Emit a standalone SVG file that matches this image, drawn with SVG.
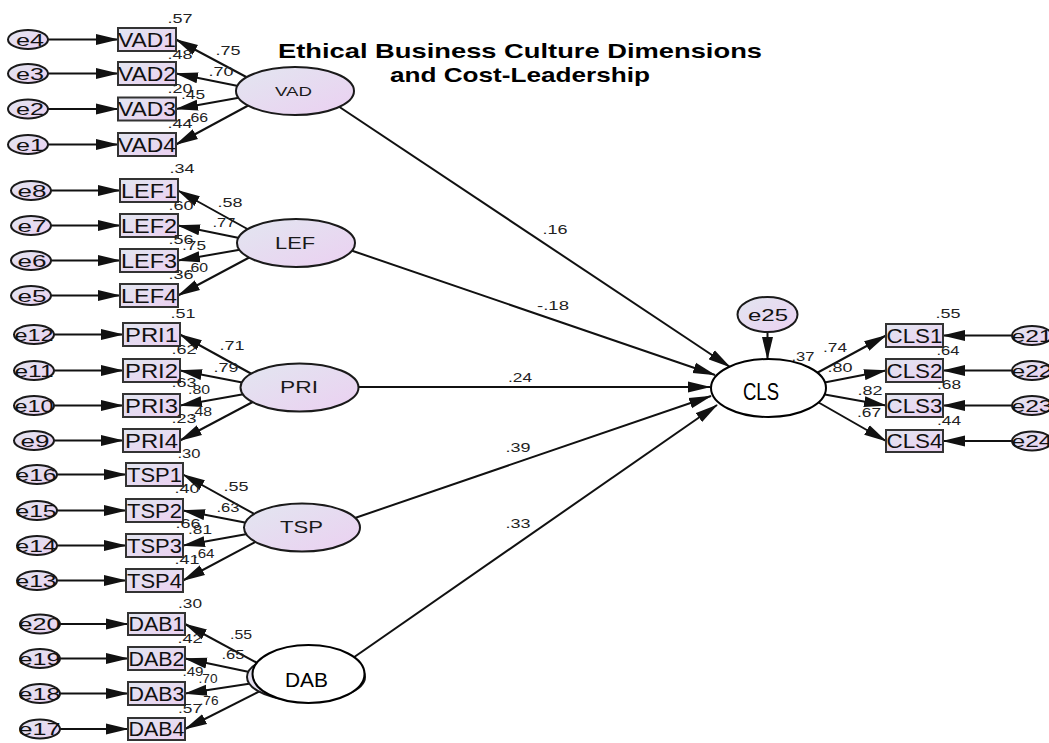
<svg xmlns="http://www.w3.org/2000/svg" width="1049" height="743" viewBox="0 0 1049 743">
<defs>
<linearGradient id="g" x1="0" y1="0" x2="1" y2="1">
<stop offset="0" stop-color="#e2e6f0"/>
<stop offset="1" stop-color="#ebd0f1"/>
</linearGradient>
<marker id="a" markerUnits="userSpaceOnUse" markerWidth="23" markerHeight="12" refX="22" refY="6" orient="auto">
<path d="M0,0.5 L23,6 L0,11.5 z" fill="#111"/>
</marker>
<style>
.en{fill:url(#g);stroke:#1a1a1a;stroke-width:2}
.box{fill:url(#g);stroke:#333;stroke-width:2}
.lat{fill:url(#g);stroke:#1a1a1a;stroke-width:2}
.wl{fill:#fff;stroke:#000;stroke-width:2}
.c line{stroke:#111;stroke-width:2;marker-end:url(#a)}
text{font-family:"Liberation Sans",Arial,sans-serif;fill:#1a1a1a;text-anchor:middle}
.n{font-size:13px;fill:#222}
.bl{font-size:20px;fill:#111}
.el{font-size:17px;fill:#111}
.ll{font-size:17px}
.t{font-size:21px;font-weight:bold;fill:#000}
.cal{font-family:"Liberation Sans Narrow","Liberation Sans",sans-serif;fill:#000}
</style>
</defs>
<rect width="1049" height="743" fill="#fff"/>

<g id="title">
<text class="t" x="520" y="58" textLength="484" lengthAdjust="spacingAndGlyphs">Ethical Business Culture Dimensions</text>
<text class="t" x="520" y="82" textLength="260" lengthAdjust="spacingAndGlyphs">and Cost-Leadership</text>
</g>

<g id="connectors" class="c">
<line x1="48" y1="39.5" x2="118" y2="39.5"/>
<line x1="48" y1="73.5" x2="118" y2="73.5"/>
<line x1="48" y1="109" x2="118" y2="109"/>
<line x1="48" y1="144.5" x2="118" y2="144.5"/>
<line x1="51" y1="190.5" x2="120" y2="190.5"/>
<line x1="51" y1="225.5" x2="120" y2="225.5"/>
<line x1="51" y1="260.5" x2="120" y2="260.5"/>
<line x1="51" y1="295.5" x2="120" y2="295.5"/>
<line x1="54" y1="334.5" x2="123" y2="334.5"/>
<line x1="54" y1="370.5" x2="123" y2="370.5"/>
<line x1="54" y1="405.5" x2="123" y2="405.5"/>
<line x1="54" y1="440.5" x2="123" y2="440.5"/>
<line x1="57" y1="474.5" x2="126" y2="474.5"/>
<line x1="57" y1="510.5" x2="126" y2="510.5"/>
<line x1="57" y1="545.5" x2="126" y2="545.5"/>
<line x1="57" y1="580.5" x2="126" y2="580.5"/>
<line x1="60" y1="624" x2="128" y2="624"/>
<line x1="60" y1="658.5" x2="128" y2="658.5"/>
<line x1="60" y1="693.5" x2="128" y2="693.5"/>
<line x1="60" y1="729" x2="128" y2="729"/>
<line x1="250" y1="79" x2="176" y2="39.5"/>
<line x1="243" y1="87" x2="176" y2="73.5"/>
<line x1="243" y1="97" x2="176" y2="109"/>
<line x1="251" y1="104" x2="176" y2="144.5"/>
<line x1="251" y1="231" x2="178" y2="190.5"/>
<line x1="244" y1="239" x2="178" y2="225.5"/>
<line x1="244" y1="249" x2="178" y2="260.5"/>
<line x1="252" y1="256" x2="178" y2="295.5"/>
<line x1="254.5" y1="375.5" x2="180" y2="334.5"/>
<line x1="247.5" y1="383.5" x2="180" y2="370.5"/>
<line x1="247.5" y1="393.5" x2="180" y2="405.5"/>
<line x1="255.5" y1="400.5" x2="180" y2="440.5"/>
<line x1="257" y1="515.5" x2="183" y2="474.5"/>
<line x1="250" y1="523.5" x2="183" y2="510.5"/>
<line x1="250" y1="533.5" x2="183" y2="545.5"/>
<line x1="258" y1="540.5" x2="183" y2="580.5"/>
<line x1="261" y1="665" x2="185" y2="624"/>
<line x1="254" y1="673" x2="185" y2="658.5"/>
<line x1="254" y1="683" x2="185" y2="693.5"/>
<line x1="262" y1="690" x2="185" y2="729"/>
<line x1="335" y1="104" x2="730" y2="367"/>
<line x1="350" y1="250" x2="715" y2="375"/>
<line x1="352" y1="387" x2="710" y2="387"/>
<line x1="352" y1="519" x2="711" y2="396"/>
<line x1="350" y1="660" x2="717" y2="405"/>
<line x1="767.5" y1="332" x2="767.5" y2="359"/>
<line x1="815" y1="374" x2="886" y2="335.5"/>
<line x1="822" y1="383" x2="886" y2="370.5"/>
<line x1="822" y1="394" x2="886" y2="405.5"/>
<line x1="816" y1="401" x2="886" y2="441"/>
<line x1="1012" y1="335.5" x2="943" y2="335.5"/>
<line x1="1012" y1="370.5" x2="943" y2="370.5"/>
<line x1="1012" y1="405.5" x2="943" y2="405.5"/>
<line x1="1012" y1="441" x2="943" y2="441"/>
</g>

<g id="VAD">
<ellipse class="lat" cx="295" cy="91" rx="59" ry="24"/>
<text x="293.5" y="96" style="font-size:13px" textLength="37" lengthAdjust="spacingAndGlyphs">VAD</text>
</g>
<g id="LEF">
<ellipse class="lat" cx="296" cy="243" rx="59" ry="24"/>
<text class="ll" x="295" y="249" textLength="40" lengthAdjust="spacingAndGlyphs">LEF</text>
</g>
<g id="PRI">
<ellipse class="lat" cx="299.5" cy="387.5" rx="59" ry="24"/>
<text class="ll" x="299" y="393" textLength="38" lengthAdjust="spacingAndGlyphs">PRI</text>
</g>
<g id="TSP">
<ellipse class="lat" cx="302" cy="527.5" rx="58" ry="24"/>
<text class="ll" x="301.5" y="533" textLength="43" lengthAdjust="spacingAndGlyphs">TSP</text>
</g>
<g id="DAB">
<ellipse class="lat" cx="306" cy="677" rx="59" ry="24"/>
<ellipse class="wl" cx="308.5" cy="674" rx="56" ry="29"/>
<text class="cal" x="306.5" y="687" style="font-size:21px" textLength="43" lengthAdjust="spacingAndGlyphs">DAB</text>
</g>
<g id="CLS">
<ellipse class="wl" cx="768.5" cy="388" rx="57.5" ry="29"/>
<text class="cal" x="761" y="400" style="font-size:24px" textLength="36" lengthAdjust="spacingAndGlyphs">CLS</text>
</g>
<g id="e25">
<ellipse class="en" cx="767.5" cy="314.5" rx="30" ry="17.5"/>
<text class="el" x="768" y="320.5" textLength="40" lengthAdjust="spacingAndGlyphs">e25</text>
</g>

<g id="indicators">
<g id="VAD1"><rect class="box" x="118" y="28" width="58" height="23"/><text class="bl" x="147" y="46.5" textLength="58" lengthAdjust="spacingAndGlyphs">VAD1</text></g>
<g id="VAD2"><rect class="box" x="118" y="62" width="58" height="23"/><text class="bl" x="147" y="80.5" textLength="58" lengthAdjust="spacingAndGlyphs">VAD2</text></g>
<g id="VAD3"><rect class="box" x="118" y="97.5" width="58" height="23"/><text class="bl" x="147" y="116" textLength="58" lengthAdjust="spacingAndGlyphs">VAD3</text></g>
<g id="VAD4"><rect class="box" x="118" y="133" width="58" height="23"/><text class="bl" x="147" y="151.5" textLength="58" lengthAdjust="spacingAndGlyphs">VAD4</text></g>
<g id="LEF1"><rect class="box" x="120" y="179" width="58" height="23"/><text class="bl" x="149" y="197.5" textLength="56" lengthAdjust="spacingAndGlyphs">LEF1</text></g>
<g id="LEF2"><rect class="box" x="120" y="214" width="58" height="23"/><text class="bl" x="149" y="232.5" textLength="56" lengthAdjust="spacingAndGlyphs">LEF2</text></g>
<g id="LEF3"><rect class="box" x="120" y="249" width="58" height="23"/><text class="bl" x="149" y="267.5" textLength="56" lengthAdjust="spacingAndGlyphs">LEF3</text></g>
<g id="LEF4"><rect class="box" x="120" y="284" width="58" height="23"/><text class="bl" x="149" y="302.5" textLength="56" lengthAdjust="spacingAndGlyphs">LEF4</text></g>
<g id="PRI1"><rect class="box" x="123" y="323" width="57" height="23"/><text class="bl" x="151.5" y="341.5" textLength="53" lengthAdjust="spacingAndGlyphs">PRI1</text></g>
<g id="PRI2"><rect class="box" x="123" y="359" width="57" height="23"/><text class="bl" x="151.5" y="377.5" textLength="53" lengthAdjust="spacingAndGlyphs">PRI2</text></g>
<g id="PRI3"><rect class="box" x="123" y="394" width="57" height="23"/><text class="bl" x="151.5" y="412.5" textLength="53" lengthAdjust="spacingAndGlyphs">PRI3</text></g>
<g id="PRI4"><rect class="box" x="123" y="429" width="57" height="23"/><text class="bl" x="151.5" y="447.5" textLength="53" lengthAdjust="spacingAndGlyphs">PRI4</text></g>
<g id="TSP1"><rect class="box" x="126" y="463" width="57" height="23"/><text class="bl" x="154.5" y="481.5" textLength="55" lengthAdjust="spacingAndGlyphs">TSP1</text></g>
<g id="TSP2"><rect class="box" x="126" y="499" width="57" height="23"/><text class="bl" x="154.5" y="517.5" textLength="55" lengthAdjust="spacingAndGlyphs">TSP2</text></g>
<g id="TSP3"><rect class="box" x="126" y="534" width="57" height="23"/><text class="bl" x="154.5" y="552.5" textLength="55" lengthAdjust="spacingAndGlyphs">TSP3</text></g>
<g id="TSP4"><rect class="box" x="126" y="569" width="57" height="23"/><text class="bl" x="154.5" y="587.5" textLength="55" lengthAdjust="spacingAndGlyphs">TSP4</text></g>
<g id="DAB1"><rect class="box" x="128" y="613" width="57" height="22"/><text class="bl" x="156.5" y="631" textLength="56" lengthAdjust="spacingAndGlyphs">DAB1</text></g>
<g id="DAB2"><rect class="box" x="128" y="647" width="57" height="23"/><text class="bl" x="156.5" y="665.5" textLength="56" lengthAdjust="spacingAndGlyphs">DAB2</text></g>
<g id="DAB3"><rect class="box" x="128" y="682" width="57" height="23"/><text class="bl" x="156.5" y="700.5" textLength="56" lengthAdjust="spacingAndGlyphs">DAB3</text></g>
<g id="DAB4"><rect class="box" x="128" y="718" width="57" height="22"/><text class="bl" x="156.5" y="736" textLength="56" lengthAdjust="spacingAndGlyphs">DAB4</text></g>
<g id="CLS1"><rect class="box" x="886" y="324" width="57" height="23"/><text class="bl" x="914.5" y="342.5" textLength="56" lengthAdjust="spacingAndGlyphs">CLS1</text></g>
<g id="CLS2"><rect class="box" x="886" y="359" width="57" height="23"/><text class="bl" x="914.5" y="377.5" textLength="56" lengthAdjust="spacingAndGlyphs">CLS2</text></g>
<g id="CLS3"><rect class="box" x="886" y="394" width="57" height="23"/><text class="bl" x="914.5" y="412.5" textLength="56" lengthAdjust="spacingAndGlyphs">CLS3</text></g>
<g id="CLS4"><rect class="box" x="886" y="430" width="57" height="22"/><text class="bl" x="914.5" y="448" textLength="56" lengthAdjust="spacingAndGlyphs">CLS4</text></g>
</g>

<g id="errors">
<g id="e4"><ellipse class="en" cx="28" cy="39.5" rx="20" ry="9.5"/><text class="el" x="30" y="45.5" textLength="28" lengthAdjust="spacingAndGlyphs">e4</text></g>
<g id="e3"><ellipse class="en" cx="28" cy="73.5" rx="20" ry="9.5"/><text class="el" x="30" y="79.5" textLength="28" lengthAdjust="spacingAndGlyphs">e3</text></g>
<g id="e2"><ellipse class="en" cx="28" cy="109" rx="20" ry="9.5"/><text class="el" x="30" y="115" textLength="28" lengthAdjust="spacingAndGlyphs">e2</text></g>
<g id="e1"><ellipse class="en" cx="28" cy="144.5" rx="20" ry="9.5"/><text class="el" x="30" y="150.5" textLength="28" lengthAdjust="spacingAndGlyphs">e1</text></g>
<g id="e8"><ellipse class="en" cx="31" cy="190.5" rx="20" ry="9.5"/><text class="el" x="32" y="196.5" textLength="29" lengthAdjust="spacingAndGlyphs">e8</text></g>
<g id="e7"><ellipse class="en" cx="31" cy="225.5" rx="20" ry="9.5"/><text class="el" x="32" y="231.5" textLength="29" lengthAdjust="spacingAndGlyphs">e7</text></g>
<g id="e6"><ellipse class="en" cx="31" cy="260.5" rx="20" ry="9.5"/><text class="el" x="32" y="266.5" textLength="29" lengthAdjust="spacingAndGlyphs">e6</text></g>
<g id="e5"><ellipse class="en" cx="31" cy="295.5" rx="20" ry="9.5"/><text class="el" x="32" y="301.5" textLength="29" lengthAdjust="spacingAndGlyphs">e5</text></g>
<g id="e12"><ellipse class="en" cx="34" cy="334.5" rx="20" ry="9.5"/><text class="el" x="34" y="340.5" textLength="39" lengthAdjust="spacingAndGlyphs">e12</text></g>
<g id="e11"><ellipse class="en" cx="34" cy="370.5" rx="20" ry="9.5"/><text class="el" x="34" y="376.5" textLength="39" lengthAdjust="spacingAndGlyphs">e11</text></g>
<g id="e10"><ellipse class="en" cx="34" cy="405.5" rx="20" ry="9.5"/><text class="el" x="34" y="411.5" textLength="39" lengthAdjust="spacingAndGlyphs">e10</text></g>
<g id="e9"><ellipse class="en" cx="34" cy="440.5" rx="20" ry="9.5"/><text class="el" x="35" y="446.5" textLength="29" lengthAdjust="spacingAndGlyphs">e9</text></g>
<g id="e16"><ellipse class="en" cx="37" cy="474.5" rx="20" ry="9.5"/><text class="el" x="36" y="480.5" textLength="41" lengthAdjust="spacingAndGlyphs">e16</text></g>
<g id="e15"><ellipse class="en" cx="37" cy="510.5" rx="20" ry="9.5"/><text class="el" x="36" y="516.5" textLength="41" lengthAdjust="spacingAndGlyphs">e15</text></g>
<g id="e14"><ellipse class="en" cx="37" cy="545.5" rx="20" ry="9.5"/><text class="el" x="36" y="551.5" textLength="41" lengthAdjust="spacingAndGlyphs">e14</text></g>
<g id="e13"><ellipse class="en" cx="37" cy="580.5" rx="20" ry="9.5"/><text class="el" x="36" y="586.5" textLength="41" lengthAdjust="spacingAndGlyphs">e13</text></g>
<g id="e20"><ellipse class="en" cx="40" cy="624" rx="20" ry="9.5"/><text class="el" x="39.5" y="630" textLength="42" lengthAdjust="spacingAndGlyphs">e20</text></g>
<g id="e19"><ellipse class="en" cx="40" cy="658.5" rx="20" ry="9.5"/><text class="el" x="39.5" y="664.5" textLength="42" lengthAdjust="spacingAndGlyphs">e19</text></g>
<g id="e18"><ellipse class="en" cx="40" cy="693.5" rx="20" ry="9.5"/><text class="el" x="39.5" y="699.5" textLength="42" lengthAdjust="spacingAndGlyphs">e18</text></g>
<g id="e17"><ellipse class="en" cx="40" cy="729" rx="20" ry="9.5"/><text class="el" x="39.5" y="735" textLength="42" lengthAdjust="spacingAndGlyphs">e17</text></g>
<g id="e21"><ellipse class="en" cx="1032" cy="335.5" rx="20" ry="9.5"/><text class="el" x="1032" y="341.5" textLength="41" lengthAdjust="spacingAndGlyphs">e21</text></g>
<g id="e22"><ellipse class="en" cx="1032" cy="370.5" rx="20" ry="9.5"/><text class="el" x="1032" y="376.5" textLength="41" lengthAdjust="spacingAndGlyphs">e22</text></g>
<g id="e23"><ellipse class="en" cx="1032" cy="405.5" rx="20" ry="9.5"/><text class="el" x="1032" y="411.5" textLength="41" lengthAdjust="spacingAndGlyphs">e23</text></g>
<g id="e24"><ellipse class="en" cx="1032" cy="441" rx="20" ry="9.5"/><text class="el" x="1032" y="447" textLength="41" lengthAdjust="spacingAndGlyphs">e24</text></g>
</g>

<g id="estimates">
<text class="n" x="180" y="23" textLength="25" lengthAdjust="spacingAndGlyphs">.57</text>
<text class="n" x="228" y="55" textLength="25" lengthAdjust="spacingAndGlyphs">.75</text>
<text class="n" x="180" y="59" textLength="25" lengthAdjust="spacingAndGlyphs">.48</text>
<text class="n" x="221" y="76" textLength="25" lengthAdjust="spacingAndGlyphs">.70</text>
<text class="n" x="180" y="93" textLength="25" lengthAdjust="spacingAndGlyphs">.20</text>
<text class="n" x="193" y="99" textLength="24" lengthAdjust="spacingAndGlyphs">.45</text>
<text class="n" x="197" y="122" textLength="22" lengthAdjust="spacingAndGlyphs">.66</text>
<text class="n" x="180" y="128" textLength="25" lengthAdjust="spacingAndGlyphs">.44</text>
<text class="n" x="182" y="173" textLength="25" lengthAdjust="spacingAndGlyphs">.34</text>
<text class="n" x="230" y="207" textLength="25" lengthAdjust="spacingAndGlyphs">.58</text>
<text class="n" x="181" y="210" textLength="25" lengthAdjust="spacingAndGlyphs">.60</text>
<text class="n" x="224" y="227" textLength="23" lengthAdjust="spacingAndGlyphs">.77</text>
<text class="n" x="181" y="244" textLength="25" lengthAdjust="spacingAndGlyphs">.56</text>
<text class="n" x="194" y="250" textLength="24" lengthAdjust="spacingAndGlyphs">.75</text>
<text class="n" x="197" y="272" textLength="22" lengthAdjust="spacingAndGlyphs">.60</text>
<text class="n" x="181" y="279" textLength="25" lengthAdjust="spacingAndGlyphs">.36</text>
<text class="n" x="183" y="318" textLength="25" lengthAdjust="spacingAndGlyphs">.51</text>
<text class="n" x="232" y="350" textLength="25" lengthAdjust="spacingAndGlyphs">.71</text>
<text class="n" x="184" y="354" textLength="25" lengthAdjust="spacingAndGlyphs">.62</text>
<text class="n" x="226" y="372" textLength="25" lengthAdjust="spacingAndGlyphs">.79</text>
<text class="n" x="184" y="387" textLength="25" lengthAdjust="spacingAndGlyphs">.63</text>
<text class="n" x="199" y="394" textLength="22" lengthAdjust="spacingAndGlyphs">.80</text>
<text class="n" x="201" y="416" textLength="22" lengthAdjust="spacingAndGlyphs">.48</text>
<text class="n" x="184" y="423" textLength="25" lengthAdjust="spacingAndGlyphs">.23</text>
<text class="n" x="189" y="458" textLength="23" lengthAdjust="spacingAndGlyphs">.30</text>
<text class="n" x="236" y="491" textLength="25" lengthAdjust="spacingAndGlyphs">.55</text>
<text class="n" x="187" y="493" textLength="25" lengthAdjust="spacingAndGlyphs">.40</text>
<text class="n" x="228" y="512" textLength="23" lengthAdjust="spacingAndGlyphs">.63</text>
<text class="n" x="188" y="528" textLength="25" lengthAdjust="spacingAndGlyphs">.66</text>
<text class="n" x="200" y="534" textLength="24" lengthAdjust="spacingAndGlyphs">.81</text>
<text class="n" x="204" y="558" textLength="21" lengthAdjust="spacingAndGlyphs">.64</text>
<text class="n" x="187" y="564" textLength="25" lengthAdjust="spacingAndGlyphs">.41</text>
<text class="n" x="190" y="608" textLength="24" lengthAdjust="spacingAndGlyphs">.30</text>
<text class="n" x="241" y="639" textLength="22" lengthAdjust="spacingAndGlyphs">.55</text>
<text class="n" x="190" y="643" textLength="25" lengthAdjust="spacingAndGlyphs">.42</text>
<text class="n" x="233" y="659" textLength="23" lengthAdjust="spacingAndGlyphs">.65</text>
<text class="n" x="193" y="676" textLength="21" lengthAdjust="spacingAndGlyphs">.49</text>
<text class="n" x="208" y="683" textLength="19" lengthAdjust="spacingAndGlyphs">.70</text>
<text class="n" x="209" y="705" textLength="19" lengthAdjust="spacingAndGlyphs">.76</text>
<text class="n" x="190" y="713" textLength="24" lengthAdjust="spacingAndGlyphs">.57</text>
<text class="n" x="948" y="318" textLength="25" lengthAdjust="spacingAndGlyphs">.55</text>
<text class="n" x="803" y="361" textLength="23" lengthAdjust="spacingAndGlyphs">.37</text>
<text class="n" x="835" y="352" textLength="24" lengthAdjust="spacingAndGlyphs">.74</text>
<text class="n" x="948" y="355" textLength="23" lengthAdjust="spacingAndGlyphs">.64</text>
<text class="n" x="840" y="372" textLength="25" lengthAdjust="spacingAndGlyphs">.80</text>
<text class="n" x="949" y="389" textLength="24" lengthAdjust="spacingAndGlyphs">.68</text>
<text class="n" x="870" y="395" textLength="25" lengthAdjust="spacingAndGlyphs">.82</text>
<text class="n" x="869" y="417" textLength="24" lengthAdjust="spacingAndGlyphs">.67</text>
<text class="n" x="949" y="425" textLength="24" lengthAdjust="spacingAndGlyphs">.44</text>
<text class="n" x="555" y="234" textLength="25" lengthAdjust="spacingAndGlyphs">.16</text>
<text class="n" x="553" y="310" textLength="32" lengthAdjust="spacingAndGlyphs">-.18</text>
<text class="n" x="520" y="382" textLength="24" lengthAdjust="spacingAndGlyphs">.24</text>
<text class="n" x="518" y="452" textLength="25" lengthAdjust="spacingAndGlyphs">.39</text>
<text class="n" x="518" y="528" textLength="25" lengthAdjust="spacingAndGlyphs">.33</text>
</g>
</svg>
